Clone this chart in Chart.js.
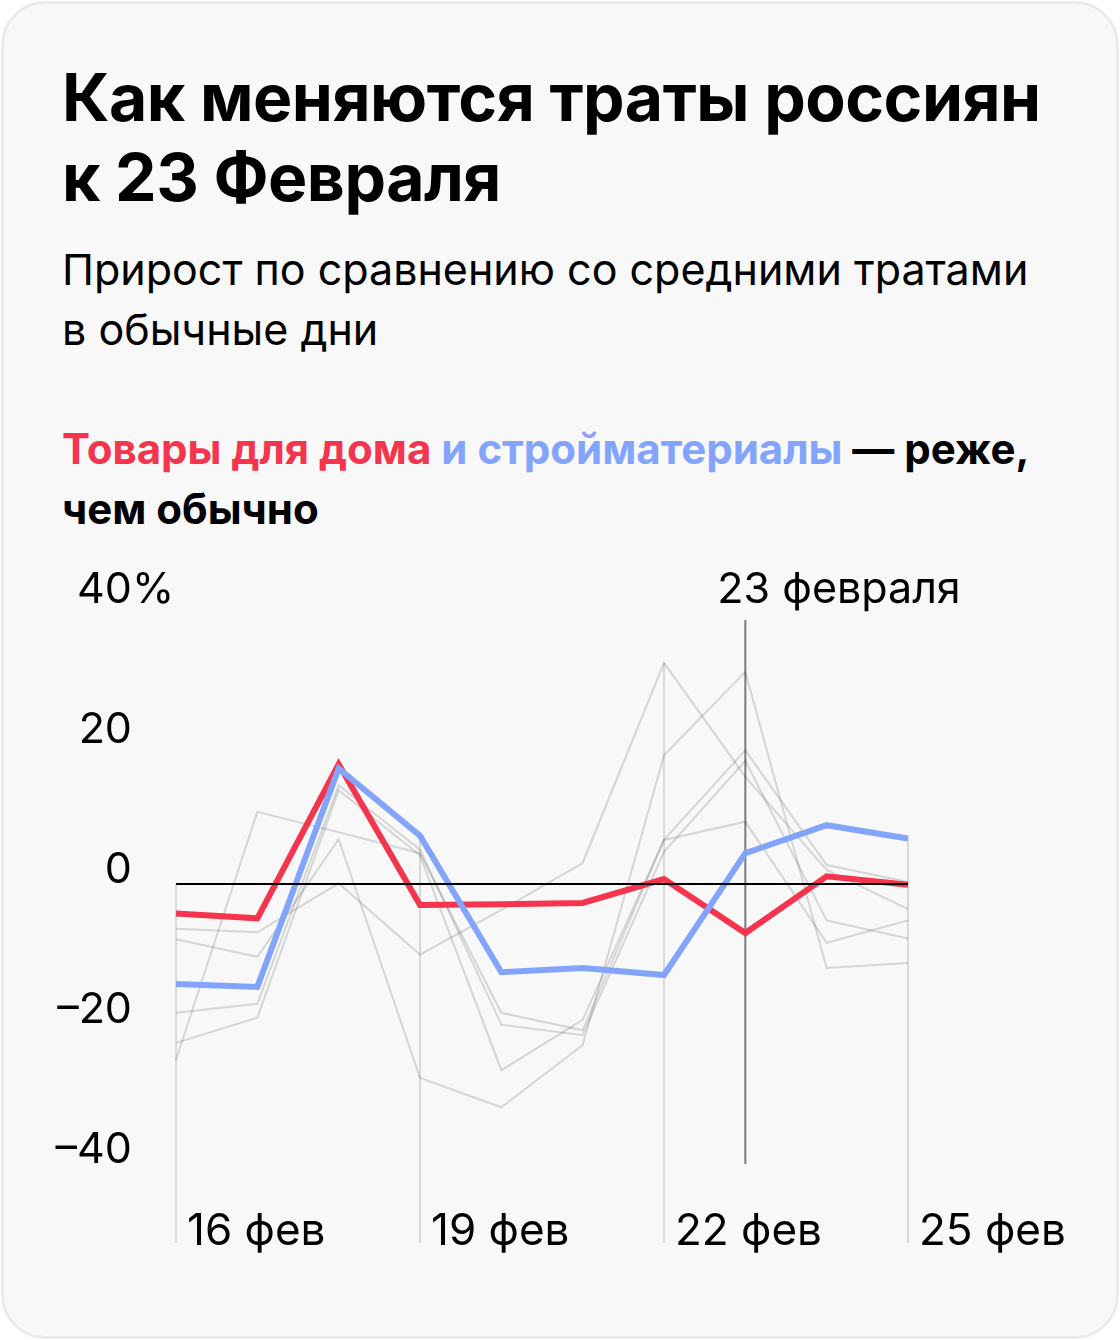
<!DOCTYPE html>
<html lang="ru">
<head>
<meta charset="utf-8">
<script src="https://cdn.jsdelivr.net/npm/chart.js@4/dist/chart.umd.min.js"></script>
<style>
  html, body { margin: 0; padding: 0; background: #fff; }
  body { width: 1120px; height: 1340px; position: relative; overflow: hidden; font-family: Inter, 'Noto Sans', sans-serif; color: #000; }
  .card { position: absolute; left: 1px; top: 1px; width: 1112px; height: 1332px; border: 3px solid #ebebeb; border-radius: 44px; background: #f8f8f8; }
  .title { position: absolute; left: 62px; top: 57px; font-size: 66px; line-height: 80px; font-weight: 700; letter-spacing: -0.5px; white-space: nowrap; }
  .subtitle { position: absolute; left: 62px; top: 239px; font-size: 43px; line-height: 60px; font-weight: 400; white-space: nowrap; }
  .lead { position: absolute; left: 62px; top: 419px; font-size: 42px; line-height: 60px; font-weight: 700; white-space: nowrap; }
  .red { color: #f5344e; }
  .blue { color: #82a4fd; }
  canvas { position: absolute; left: 0; top: 0; }
</style>
</head>
<body>
<div class="card"></div>
<div class="title">Как меняются траты россиян<br>к 23 Февраля</div>
<div class="subtitle">Прирост по сравнению со средними тратами<br>в обычные дни</div>
<div class="lead"><span class="red">Товары для дома</span> <span class="blue">и стройматериалы</span> — реже,<br>чем обычно</div>
<canvas id="chart" width="1120" height="1340"></canvas>
<script>
// дни, 16–25 февраля
const days = ['16 фев', '17 фев', '18 фев', '19 фев', '20 фев', '21 фев', '22 фев', '23 фев', '24 фев', '25 фев'];
const shownDays = [0, 3, 6, 9];
const holidayIndex = 7;
const holidayLabel = '23 февраля';

const yTicks = [40, 20, 0, -20, -40];
const yTickText = ['40%', '20', '0', '–20', '–40'];

// прирост трат, %
const homeGoods = [-4.2, -4.9, 17.1, -3.0, -2.9, -2.7, 0.7, -7.0, 1.1, -0.1];
const buildingMaterials = [-14.3, -14.7, 16.5, 6.9, -12.6, -12.0, -13.0, 4.4, 8.4, 6.5];

// остальные категории (серым)
const otherA = [-25.1, 10.3, 7.4, 4.4, -18.4, -20.9, 6.3, 19.1, 2.7, 0.3];
const otherB = [-6.4, -6.9, 0.1, -10.1, -3.7, 3.0, 31.6, 15.3, 2.0, -3.6];
const otherC = [-7.9, -10.4, 6.4, -27.7, -31.9, -23.0, 18.4, 30.3, -12.0, -11.3];
const otherD = [-18.4, -17.1, 14.1, 4.9, -20.1, -21.6, 4.6, 17.6, -5.2, -7.8];
const otherE = [-22.7, -19.1, 13.4, 4.1, -26.6, -19.4, 6.3, 8.9, -8.4, -5.2];
const others = [otherA, otherB, otherC, otherD, otherE];

const RED = '#f5344e';
const BLUE = '#82a4fd';
const GRAY = 'rgba(0, 0, 0, 0.14)';
const FONT = '400 43px Inter, "Noto Sans", sans-serif';
const DAY_FONT = '400 44px Inter, "Noto Sans", sans-serif';

const allSeries = [homeGoods, buildingMaterials, ...others];

const decorations = {
    id: 'decorations',
    beforeDatasetsDraw(chart) {
        const { ctx, scales: { x, y } } = chart;
        const bottom = 1243;
        ctx.save();
        // вертикальные линии под подписями дат
        ctx.strokeStyle = 'rgba(0, 0, 0, 0.13)';
        ctx.lineWidth = 2;
        shownDays.forEach(i => {
            const top = Math.max(0, ...allSeries.map(s => s[i]));
            const px = x.getPixelForValue(i);
            ctx.beginPath();
            ctx.moveTo(px, y.getPixelForValue(top));
            ctx.lineTo(px, bottom);
            ctx.stroke();
        });
        // 23 февраля
        const hx = x.getPixelForValue(holidayIndex);
        ctx.strokeStyle = '#7b7b7b';
        ctx.beginPath();
        ctx.moveTo(hx, 620);
        ctx.lineTo(hx, y.getPixelForValue(-40));
        ctx.stroke();
        ctx.restore();
    },
    afterDatasetsDraw(chart) {
        const { ctx, scales: { x, y } } = chart;
        ctx.save();
        // нулевая линия
        ctx.strokeStyle = '#000';
        ctx.lineWidth = 2;
        ctx.beginPath();
        ctx.moveTo(x.getPixelForValue(0), y.getPixelForValue(0));
        ctx.lineTo(x.getPixelForValue(days.length - 1), y.getPixelForValue(0));
        ctx.stroke();

        ctx.fillStyle = '#000';
        ctx.font = FONT;
        ctx.textBaseline = 'middle';
        // подписи оси Y
        yTicks.forEach((v, k) => {
            const py = y.getPixelForValue(v) - 14;
            const txt = yTickText[k];
            const num = txt.replace('%', '');
            ctx.textAlign = 'right';
            ctx.fillText(num, 132, py);
            if (txt.endsWith('%')) {
                ctx.textAlign = 'left';
                ctx.fillText('%', 132, py);
            }
        });
        // подпись 23 февраля
        ctx.textAlign = 'left';
        ctx.fillText(holidayLabel, x.getPixelForValue(holidayIndex) - 28, 590);
        // подписи дат
        ctx.font = DAY_FONT;
        ctx.textBaseline = 'alphabetic';
        shownDays.forEach(i => {
            ctx.fillText(days[i], x.getPixelForValue(i) + 11, 1245);
        });
        ctx.restore();
    }
};

const grayDatasets = others.map(s => ({
    data: s,
    borderColor: GRAY,
    borderWidth: 2,
    order: 2
}));

const data = {
    labels: days,
    datasets: [
        { label: 'Стройматериалы', data: buildingMaterials, borderColor: BLUE, borderWidth: 6, order: 0 },
        { label: 'Товары для дома', data: homeGoods, borderColor: RED, borderWidth: 6, order: 1 },
        ...grayDatasets
    ]
};

const config = {
    type: 'line',
    data: data,
    options: {
        responsive: false,
        animation: false,
        devicePixelRatio: 1,
        layout: {
            padding: { left: 176, right: 212, top: 604, bottom: 176 }
        },
        elements: {
            point: { radius: 0, hoverRadius: 0 },
            line: { tension: 0 }
        },
        scales: {
            x: { type: 'category', display: false, offset: false },
            y: { display: false, min: -40, max: 40 }
        },
        plugins: {
            legend: { display: false },
            tooltip: { enabled: false }
        }
    },
    plugins: [decorations]
};

new Chart(document.getElementById('chart'), config);
</script>
</body>
</html>
